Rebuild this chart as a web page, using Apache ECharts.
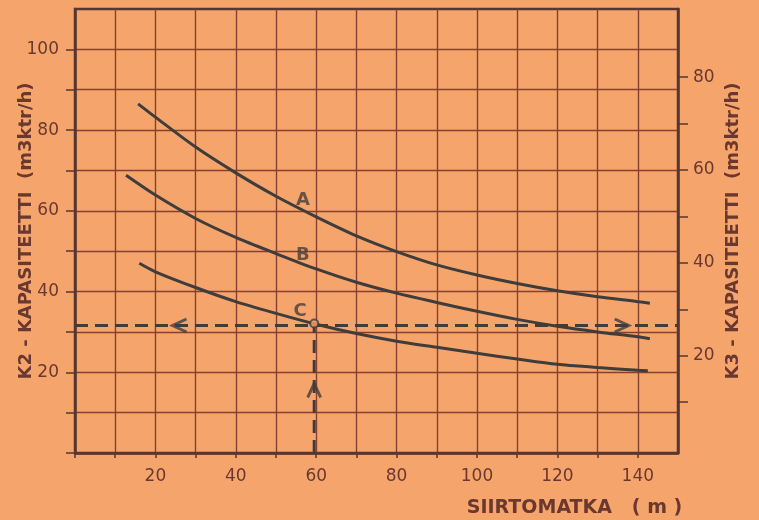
<!DOCTYPE html>
<html>
<head>
<meta charset="utf-8">
<script src="https://cdn.jsdelivr.net/npm/echarts@6/dist/echarts.min.js"></script>
<style>
  html, body { margin: 0; padding: 0; background: #f5a56c; }
  #chart { width: 759px; height: 520px; }
</style>
</head>
<body>
<div id="chart"></div>
<script>
// Haul distance (m) vs. K2 capacity (m3ktr/h) for curves A, B, C
const distA = [15.7, 20, 30, 40, 50, 60, 70, 80, 90, 100, 110, 120, 130, 140, 143];
const capA  = [86.5, 83.2, 75.8, 69.4, 63.6, 58.5, 53.8, 49.9, 46.6, 44.1, 42.0, 40.2, 38.7, 37.5, 37.1];
const distB = [12.7, 20, 30, 40, 50, 60, 70, 80, 90, 100, 110, 120, 130, 140, 143];
const capB  = [68.8, 63.9, 58.1, 53.4, 49.4, 45.6, 42.3, 39.6, 37.3, 35.1, 33.1, 31.4, 30.0, 28.8, 28.3];
const distC = [16, 20, 30, 40, 50, 60, 70, 80, 90, 100, 110, 120, 130, 140, 142.5];
const capC  = [47.0, 44.9, 41.0, 37.5, 34.6, 31.9, 29.6, 27.7, 26.2, 24.7, 23.3, 22.0, 21.2, 20.5, 20.4];

// Worked example: 60 m haul read across to the capacity scales
const exampleDist = 59.5;
const exampleCap = 31.6;

// Axis ticks and labels
const xLabels = [20, 40, 60, 80, 100, 120, 140];
const xTicks = [0, 10, 20, 30, 40, 50, 60, 70, 80, 90, 100, 110, 120, 130, 140];
const k2Labels = [20, 40, 60, 80, 100];
const k2Ticks = [0, 10, 20, 30, 40, 50, 60, 70, 80, 90, 100];
const k3Labels = [20, 40, 60, 80];
const k3Ticks = [10, 20, 30, 40, 50, 60, 70, 80];

// Curve name labels (placed beside each curve)
const curveNames = ['A', 'B', 'C'];
const curveNamePos = [[56.7, 62.7], [56.7, 49.0], [56.0, 35.2]];

const ink = '#3f3d3c';
const brown = '#6a382e';
const gridColor = '#86402f';
const frame = '#573630';
const bg = '#f5a56c';

const zip = (xs, ys) => xs.map((x, i) => [x, ys[i]]);

const chevron = 'path://M10,0 L0,6 L10,12';

const chart = echarts.init(document.getElementById('chart'), null, { renderer: 'canvas' });

chart.setOption({
  backgroundColor: bg,
  animation: false,
  grid: {
    left: 75, top: 9, width: 603, height: 444,
    outerBoundsMode: 'none', containLabel: false,
    show: true, borderColor: frame, borderWidth: 2.5, backgroundColor: 'transparent'
  },
  xAxis: {
    type: 'value', min: 0, max: 150, interval: 10,
    name: 'SIIRTOMATKA   ( m )',
    nameLocation: 'middle', nameGap: 46, nameMoveOverlap: false,
    nameTextStyle: { fontFamily: 'DejaVu Sans', fontWeight: 'bold', fontSize: 19, color: brown, padding: [0, 0, 0, 396] },
    axisLine: { show: true, onZero: false, lineStyle: { color: frame, width: 2.5 } },
    axisTick: { show: true, length: 5, customValues: xTicks, lineStyle: { color: frame, width: 1.5 } },
    axisLabel: { customValues: xLabels, margin: 15, fontFamily: 'DejaVu Sans', fontSize: 17, color: brown },
    splitLine: { show: true, lineStyle: { color: gridColor, width: 1.4 } }
  },
  yAxis: [
    {
      type: 'value', position: 'left', min: 0, max: 110, interval: 10,
      name: 'K2 - KAPASITEETTI  (m3ktr/h)',
      nameLocation: 'middle', nameRotate: 90, nameGap: 40, nameMoveOverlap: false,
      nameTextStyle: { fontFamily: 'DejaVu Sans', fontWeight: 'bold', fontSize: 18, color: brown },
      axisLine: { show: true, onZero: false, lineStyle: { color: frame, width: 2.5 } },
      axisTick: { show: true, length: 9, customValues: k2Ticks, lineStyle: { color: frame, width: 1.5 } },
      axisLabel: { customValues: k2Labels, margin: 16, fontFamily: 'DejaVu Sans', fontSize: 17, color: brown },
      splitLine: { show: true, lineStyle: { color: gridColor, width: 1.4 } }
    },
    {
      type: 'value', position: 'right', min: -0.97, max: 94.7,
      name: 'K3 - KAPASITEETTI  (m3ktr/h)',
      nameLocation: 'middle', nameRotate: 90, nameGap: 46, nameMoveOverlap: false,
      nameTextStyle: { fontFamily: 'DejaVu Sans', fontWeight: 'bold', fontSize: 18, color: brown },
      axisLine: { show: true, onZero: false, lineStyle: { color: frame, width: 2.5 } },
      axisTick: { show: true, length: 10, customValues: k3Ticks, lineStyle: { color: frame, width: 1.5 } },
      axisLabel: { customValues: k3Labels, margin: 15, fontFamily: 'DejaVu Sans', fontSize: 17, color: brown },
      splitLine: { show: false }
    }
  ],
  series: [
    { type: 'line', name: 'A', data: zip(distA, capA), smooth: 0.3, symbol: 'none',
      lineStyle: { color: ink, width: 3 }, z: 5 },
    { type: 'line', name: 'B', data: zip(distB, capB), smooth: 0.3, symbol: 'none',
      lineStyle: { color: ink, width: 3 }, z: 5 },
    { type: 'line', name: 'C', data: zip(distC, capC), smooth: 0.3, symbol: 'none',
      lineStyle: { color: ink, width: 3 }, z: 5 },
    // dashed read-off lines
    { type: 'line', data: [[0, exampleCap], [150, exampleCap]], symbol: 'none',
      lineStyle: { color: ink, width: 3, type: [13, 7] }, z: 4 },
    { type: 'line', data: [[exampleDist, 0], [exampleDist, exampleCap]], symbol: 'none',
      lineStyle: { color: ink, width: 3, type: [13, 7] }, z: 4 },
    // direction arrows on the read-off lines
    { type: 'scatter', symbol: chevron, symbolSize: [14, 13],
      data: [
        { value: [26, exampleCap], symbolRotate: 0 },
        { value: [136, exampleCap], symbolRotate: 180 },
        { value: [exampleDist, 15.5], symbolRotate: -90 }
      ],
      itemStyle: { color: 'rgba(0,0,0,0)', borderColor: ink, borderWidth: 3 }, z: 6 },
    // intersection marker
    { type: 'scatter', symbol: 'circle', symbolSize: 8,
      data: [[exampleDist, 32.1]],
      itemStyle: { color: bg, borderColor: ink, borderWidth: 2 }, z: 7 },
    // curve names
    { type: 'scatter', symbolSize: 0,
      data: curveNames.map((n, i) => ({ name: n, value: curveNamePos[i] })),
      label: { show: true, position: 'inside', formatter: p => p.name,
        fontFamily: 'DejaVu Sans', fontWeight: 'bold', fontSize: 18, color: '#4a3d3a' }, z: 8 }
  ]
});
</script>
</body>
</html>
